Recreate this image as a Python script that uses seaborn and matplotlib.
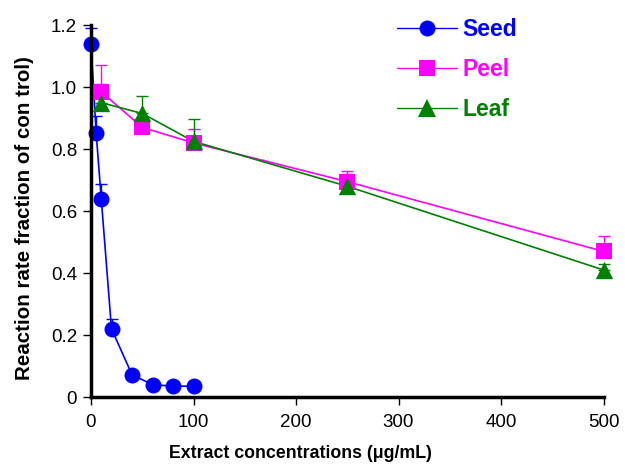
import matplotlib
matplotlib.use("Agg")
import matplotlib.pyplot as plt
import seaborn as sns
import pandas as pd
import numpy as np
from matplotlib.lines import Line2D

# Data
seed_x = [0, 5, 10, 20, 40, 60, 80, 100]
seed_y = [1.14, 0.853, 0.64, 0.22, 0.072, 0.04, 0.035, 0.035]
seed_err = [0.05, 0.053, 0.048, 0.032, 0, 0, 0, 0]

peel_x = [10, 50, 100, 250, 500]
peel_y = [0.985, 0.87, 0.82, 0.695, 0.47]
peel_err = [0.085, 0, 0.045, 0.033, 0.05]

leaf_x = [10, 50, 100, 250, 500]
leaf_y = [0.95, 0.915, 0.825, 0.68, 0.41]
leaf_err = [0.06, 0.055, 0.073, 0.04, 0.02]

control_x = 0
control_y = 1.0

x_ticks = [0, 100, 200, 300, 400, 500]
y_ticks = [0, 0.2, 0.4, 0.6, 0.8, 1.0, 1.2]
y_tick_labels = ["0", "0.2", "0.4", "0.6", "0.8", "1.0", "1.2"]

sns.set_style("ticks")
plt.rcParams['font.family'] = ['Liberation Sans', 'DejaVu Sans']

fig = plt.figure(figsize=(6.25, 4.66), dpi=100)
ax = fig.add_axes([0.1456, 0.148, 0.82, 0.798])

colors = {"Seed": "#0000FF", "Peel": "#FF00FF", "Leaf": "#008000"}
markers = {"Seed": "o", "Peel": "s", "Leaf": "^"}
msize = {"Seed": 11.5, "Peel": 11, "Leaf": 12.5}

series = {
    "Seed": (seed_x, seed_y, seed_err, False),
    "Peel": (peel_x, peel_y, peel_err, True),
    "Leaf": (leaf_x, leaf_y, leaf_err, True),
}

for name, (xs, ys, errs, from_control) in series.items():
    c = colors[name]
    lx = ([control_x] + list(xs)) if from_control else list(xs)
    ly = ([control_y] + list(ys)) if from_control else list(ys)
    line_df = pd.DataFrame({"x": lx, "y": ly})
    sns.lineplot(data=line_df, x="x", y="y", ax=ax, color=c, lw=1.2,
                 estimator=None, sort=False, zorder=2)
    ax.errorbar(xs, ys, yerr=[np.zeros(len(errs)), errs], fmt="none",
                ecolor=c, elinewidth=1.0, capsize=4, capthick=1.0, zorder=2)
    pt_df = pd.DataFrame({"x": xs, "y": ys})
    sns.scatterplot(data=pt_df, x="x", y="y", ax=ax, color=c,
                    marker=markers[name], s=msize[name] ** 2, edgecolor=c,
                    linewidth=0, zorder=3)

ax.set_xlim(0, 500)
ax.set_ylim(0, 1.2)
ax.set_xticks(x_ticks)
ax.set_yticks(y_ticks)
ax.set_yticklabels(y_tick_labels)
ax.tick_params(axis="both", labelsize=13.5, direction="out", length=6, width=1,
               color="black", labelcolor="black", pad=4)
ax.tick_params(axis="x", pad=6)
for s in ["top", "right"]:
    ax.spines[s].set_visible(False)
for s in ["left", "bottom"]:
    ax.spines[s].set_linewidth(2.5)
    ax.spines[s].set_color("black")
ax.spines["left"].set_zorder(4)
for coll in ax.collections:
    coll.set_clip_on(False)
for ln in ax.lines:
    ln.set_clip_on(False)

ax.set_xlabel("Extract concentrations (\u03bcg/mL)", fontsize=12.8,
              fontweight="bold", color="black")
ax.xaxis.set_label_coords(0.408, -0.13)
ax.set_ylabel("Reaction rate fraction of con trol)", fontsize=14.8,
              fontweight="bold", color="black")
ax.yaxis.set_label_coords(-0.112, 0.481)

# Legend
handles = [Line2D([0], [0], color=colors[n], lw=1.0, marker=markers[n],
                  markersize=msize[n], markeredgewidth=0,
                  markerfacecolor=colors[n]) for n in series]
leg = ax.legend(handles, list(series.keys()), loc="upper left",
                bbox_to_anchor=(0.557, 1.075), frameon=False,
                handlelength=2.6, labelspacing=0.75, handletextpad=0.25,
                prop={"weight": "bold", "size": 16.5})
for txt, n in zip(leg.get_texts(), series):
    txt.set_color(colors[n])

fig.savefig("out.png", dpi=100)
